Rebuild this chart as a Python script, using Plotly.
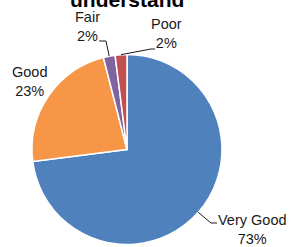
import math
import plotly.graph_objects as go

categories = ["Very Good", "Good", "Fair", "Poor"]
values = [73, 23, 2, 2]
colors = ["#4F81BD", "#F79646", "#8064A2", "#C0504D"]
title_text = "understand"

W, H = 291, 247
CX, CY, R = 127, 149.5, 95


def px(x):
    return x / W


def py(y):
    return 1 - y / H


fig = go.Figure(go.Pie(
    labels=categories, values=values, sort=False, direction="clockwise",
    rotation=0, textinfo="none", hoverinfo="label+percent",
    marker=dict(colors=colors, line=dict(color="white", width=1.5)),
    domain=dict(x=[px(CX - R), px(CX + R)], y=[py(CY + R), py(CY - R)]),
    showlegend=False,
))

# label positions (text centers) and leader routing
label_pos = {
    "Very Good": (252, 229),
    "Good": (29, 81),
    "Fair": (87, 26),
    "Poor": (166, 33),
}
leader_end = {
    "Very Good": [(211, 223), (217, 223)],
    "Fair": [(106, 41), (99, 41)],
    "Poor": [(151, 49), (155, 49)],
}

total = sum(values)
cum = 0
annotations = []
shapes = []
for cat, v in zip(categories, values):
    mid = (cum + v / 2) / total * 2 * math.pi
    cum += v
    ex = CX + R * math.sin(mid)
    ey = CY - R * math.cos(mid)
    pct = round(v / total * 100)
    lx, ly = label_pos[cat]
    annotations.append(dict(
        x=px(lx), y=py(ly), xref="paper", yref="paper", showarrow=False,
        xanchor="center", yanchor="middle",
        text=f"{cat}<br>{pct}%", align="center",
        font=dict(family="Liberation Sans, Arial", size=14.5, color="#1a1a1a"),
    ))
    if cat in leader_end:
        pts = [(ex, ey)] + leader_end[cat]
        path = "M " + " L ".join(f"{px(a)},{py(b)}" for a, b in pts)
        shapes.append(dict(type="path", xref="paper", yref="paper", path=path,
                           line=dict(color="#1a1a1a", width=1)))

annotations.append(dict(
    x=px(127), y=py(13), xref="paper", yref="paper", showarrow=False,
    xanchor="center", yanchor="bottom", text=f"<b>{title_text}</b>",
    font=dict(family="Liberation Sans, Arial", size=21, color="#000000"),
))

fig.update_layout(
    width=W, height=H, margin=dict(l=0, r=0, t=0, b=0),
    paper_bgcolor="white", plot_bgcolor="white",
    annotations=annotations, shapes=shapes,
)

fig.write_html("out.html", config={"displayModeBar": False},
               post_script="document.body.style.margin='0';document.body.style.overflow='hidden';")
